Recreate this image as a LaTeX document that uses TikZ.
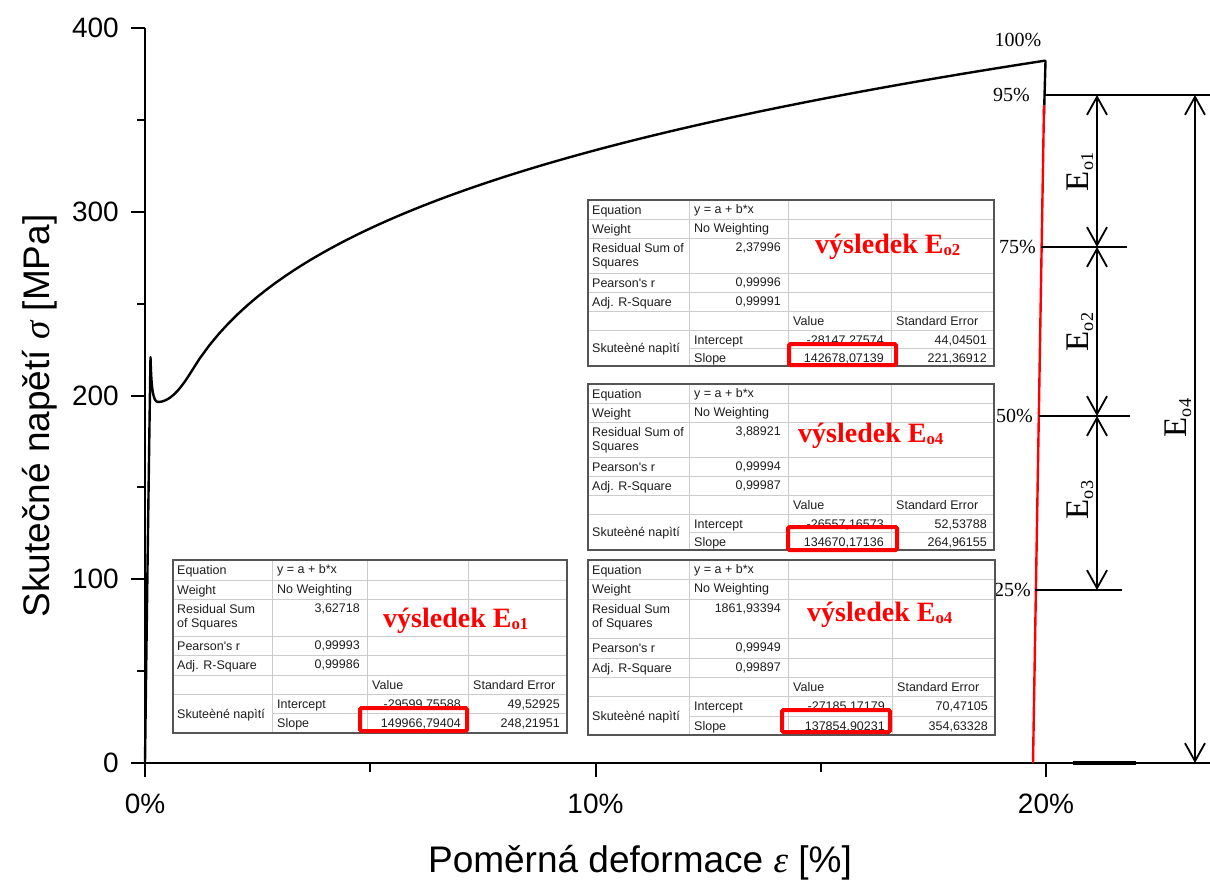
\documentclass[tikz,border=0pt]{standalone}
\usepackage{fontspec}
\usepackage{graphicx}
\setmainfont{Liberation Serif}
\setsansfont{Liberation Sans}
\newfontfamily\arialf{Liberation Sans}
\newfontfamily\tnrf{Liberation Serif}
\usetikzlibrary{arrows.meta}
\definecolor{gridgray}{HTML}{CCCCCC}
\definecolor{bordergray}{HTML}{555555}
\definecolor{tabtext}{HTML}{1E1E1E}
\definecolor{resred}{HTML}{FF0000}
\newcommand\lowsub[2][0.15em]{\raisebox{-#1}{\scalebox{0.55}{#2}}}
\newcommand\redsub[1]{\raisebox{-0.1em}{\scalebox{0.6}{#1}}}
\newcommand\setcols[4]{\def\cA{#1}\def\cB{#2}\def\cC{#3}\def\cD{#4}}
\newcommand\setrows[8]{\def\rA{#1}\def\rB{#2}\def\rC{#3}\def\rD{#4}\def\rE{#5}\def\rF{#6}\def\rG{#7}\def\rH{#8}}
\newcommand\fittab[9]{%
  \fill[white] (0,0) rectangle (\cD,\rH);
  \foreach \rr in {\rA,\rB,\rC,\rD,\rE,\rF}{\draw[gridline] (0,\rr) -- (\cD,\rr);}
  \draw[gridline] (\cA,\rG) -- (\cD,\rG);
  \foreach \cc in {\cA,\cB,\cC}{\draw[gridline] (\cc,0) -- (\cc,\rH);}
  \draw[tabborder] (0,0) rectangle (\cD,\rH);
  \node[tabl] (\tp-eq) at (4,14) {Equation};
  \node[tabl] (\tp-eqv) at (\cA+5,13) {y = a + b*x};
  \node[tabl] (\tp-w) at (4,\rA+14) {Weight};
  \node[tabl] (\tp-wv) at (\cA+5,\rA+13) {No Weighting};
  \node[tabl] (\tp-rs1) at (4,\rB+14) {#1};
  \node[tabl] (\tp-rs2) at (4,\rB+28.5) {#2};
  \node[tabr] (\tp-rsv) at (\cB-7,\rB+13) {#3};
  \node[tabl] (\tp-pr) at (4,\rC+14) {Pearson's r};
  \node[tabr] (\tp-prv) at (\cB-7,\rC+13) {#4};
  \node[tabl] (\tp-ar) at (4,\rD+14) {Adj. R-Square};
  \node[tabr] (\tp-arv) at (\cB-7,\rD+13) {#5};
  \node[tabl] (\tp-vh) at (\cB+5,\rE+14) {Value};
  \node[tabl] (\tp-eh) at (\cC+5,\rE+14) {Standard Error};
  \node[tabl] (\tp-sk) at (4,{(\rF+\rH)/2+4.5}) {Skuteèné napìtí};
  \node[tabl] (\tp-in) at (\cA+5,\rF+14) {Intercept};
  \node[tabr] (\tp-inv) at (\cC-7,\rF+14) {#6};
  \node[tabr] (\tp-ine) at (\cD-7,\rF+14) {#7};
  \node[tabl] (\tp-sl) at (\cA+5,\rG+14) {Slope};
  \node[tabr] (\tp-slv) at (\cC-7,\rG+14) {#8};
  \node[tabr] (\tp-sle) at (\cD-7,\rG+14) {#9};
}
\begin{document}
\begin{tikzpicture}[x=1pt,y=-1pt,
  axisline/.style={line width=2.4pt,line cap=butt},
  tickline/.style={line width=2pt},
  curve/.style={line width=2.4pt,line join=round,line cap=round},
  fitline/.style={line width=2.4pt,draw=resred},
  refline/.style={line width=2pt},
  dimarrow/.style={line width=1.8pt,{Straight Barb[length=18pt,width=20pt]}-{Straight Barb[length=18pt,width=20pt]}},
  gridline/.style={draw=gridgray,line width=0.9pt},
  tabborder/.style={draw=bordergray,line width=1.4pt},
  tabl/.style={anchor=base west,inner sep=0,font=\arialf\fontsize{12.5}{14}\selectfont,text=tabtext},
  tabr/.style={anchor=base east,inner sep=0,font=\arialf\fontsize{12.5}{14}\selectfont,text=tabtext},
  redbox/.style={draw=resred,line width=4pt,rounded corners=1.5pt},
  reslab/.style={anchor=base west,inner sep=0,text=resred,font=\tnrf\bfseries\fontsize{28}{28}\selectfont},
  ticklab/.style={inner sep=0,font=\arialf\fontsize{28}{30}\selectfont},
  axtitle/.style={inner sep=0,font=\arialf\fontsize{37}{40}\selectfont},
  pct/.style={inner sep=0,font=\tnrf\fontsize{20}{20}\selectfont},
  elab/.style={inner sep=0,rotate=90,font=\tnrf\fontsize{33}{33}\selectfont}]
\useasboundingbox (0,0) rectangle (1210,881);

% axes
\coordinate (ytop) at (145,28);
\coordinate (orig) at (145,763);
\coordinate (xend) at (1073,763);
\coordinate (stubend) at (1136,763);
\coordinate (baseend) at (1210,763);
\draw[axisline] (ytop) -- (orig);
\draw[axisline] (145,763) -- (xend);
\draw[line width=3.4pt] (xend) -- (stubend);
\draw[line width=1.6pt] (stubend) -- (baseend);

% y ticks
\foreach \yy in {28,211.75,395.5,579.25,763}{\draw[tickline] (131,\yy) -- (145,\yy);}
\foreach \yy in {119.9,303.6,487.4,671.1}{\draw[tickline] (137,\yy) -- (145,\yy);}
\foreach \v/\yy in {0/763,100/579.25,200/395.5,300/211.75,400/28}{\node[ticklab,anchor=east] (yl\v) at (119,\yy) {\v};}
% x ticks
\foreach \xx in {145,595.5,1046}{\draw[tickline] (\xx,763) -- (\xx,777);}
\foreach \xx in {370,820.5}{\draw[tickline] (\xx,763) -- (\xx,772);}
\node[ticklab,anchor=base] (xl0) at (145,813) {0\%};
\node[ticklab,anchor=base] (xl10) at (595.5,813) {10\%};
\node[ticklab,anchor=base] (xl20) at (1046,813) {20\%};

% axis titles
\node[axtitle,anchor=base] (xtitle) at (640,872) {Poměrná deformace {\tnrf\itshape ε} [\%]};
\node[axtitle,anchor=base,rotate=90] (ytitle) at (49,416) {Skutečné napětí {\tnrf\itshape σ} [MPa]};

% curve
\coordinate (peak) at (150.5,357);
\coordinate (cmin) at (158,402);
\coordinate (cj) at (190.05,373.6);
\coordinate (c100) at (1043.8,60.7);
\coordinate (cdrop) at (1044,115);
\draw[curve] (orig) .. controls (147,600) and (149.5,420) .. (peak)
  .. controls (151.3,385) and (152.5,402) .. (cmin)
  .. controls (168,402) and (178,393) .. (cj);
\draw[curve] plot[domain=1:19.95,samples=90,variable=\e] ({145+45.05*\e},{763-1.8375*211.9*exp(0.197*ln(\e))});
\draw[curve] (c100) -- (1045.5,61) -- (cdrop);
\coordinate (rtop) at (1044,105);
\coordinate (rbot) at (1033,763);
\draw[fitline] (rtop) -- (rbot);

% reference lines
\coordinate (l95a) at (1044,95); \coordinate (l95b) at (1210,95);
\coordinate (l75a) at (1041,247); \coordinate (l75b) at (1127,247);
\coordinate (l50a) at (1039,416); \coordinate (l50b) at (1130,416);
\coordinate (l25a) at (1035,590); \coordinate (l25b) at (1122,590);
\draw[refline] (l95a) -- (l95b);
\draw[refline] (l75a) -- (l75b);
\draw[refline] (l50a) -- (l50b);
\draw[refline] (l25a) -- (l25b);

% percent labels
\node[pct] (p100) at (1018,40) {100\%};
\node[pct,anchor=east] (p95) at (1030,95) {95\%};
\node[pct,anchor=east] (p75) at (1036,247) {75\%};
\node[pct,anchor=east] (p50) at (1033,416) {50\%};
\node[pct,anchor=east] (p25) at (1031,590) {25\%};

% dimension arrows
\coordinate (a95) at (1097,95);
\coordinate (a75) at (1097,247);
\coordinate (a50) at (1097,416);
\coordinate (a25) at (1097,590);
\coordinate (b95) at (1195,95);
\coordinate (b0) at (1195,763);
\draw[dimarrow] (a95) -- (a75);
\draw[dimarrow] (a75) -- (a50);
\draw[dimarrow] (a50) -- (a25);
\draw[dimarrow] (b95) -- (b0);
\node[elab] (e1) at (1080,172) {E\lowsub{o1}};
\node[elab] (e2) at (1080,332) {E\lowsub{o2}};
\node[elab] (e3) at (1080,500) {E\lowsub{o3}};
\node[elab] (e4) at (1178,418) {E\lowsub{o4}};

% tables
\begin{scope}[shift={(588,200)}]
\setcols{101}{200}{303}{406}\setrows{19}{38}{73}{92}{111}{130}{148}{166}\def\tp{tA}
\fittab{Residual Sum of}{Squares}{2,37996}{0,99996}{0,99991}{-28147,27574}{44,04501}{142678,07139}{221,36912}
\end{scope}
\begin{scope}[shift={(588,384)}]
\setcols{101}{200}{303}{406}\setrows{19}{38}{73}{92}{111}{130}{148}{166}\def\tp{tB}
\fittab{Residual Sum of}{Squares}{3,88921}{0,99994}{0,99987}{-26557,16573}{52,53788}{134670,17136}{264,96155}
\end{scope}
\begin{scope}[shift={(588,560)}]
\setcols{101}{200}{304}{407}\setrows{19}{39}{78}{98}{117}{136}{156}{175}\def\tp{tC}
\fittab{Residual Sum}{of Squares}{1861,93394}{0,99949}{0,99897}{-27185,17179}{70,47105}{137854,90231}{354,63328}
\end{scope}
\begin{scope}[shift={(173,560)}]
\setcols{99}{194}{295}{394}\setrows{20}{39}{76}{95}{115}{134}{153}{173}\def\tp{tD}
\fittab{Residual Sum}{of Squares}{3,62718}{0,99993}{0,99986}{-29599,75588}{49,52925}{149966,79404}{248,21951}
\end{scope}

% red boxes
\draw[redbox] (789,344) rectangle (896,365);
\draw[redbox] (788,527) rectangle (897,550);
\draw[redbox] (782,710) rectangle (890,732);
\draw[redbox] (360,708) rectangle (467,731);

% result labels
\node[reslab] (resA) at (815,253) {výsledek E\redsub{o2}};
\node[reslab] (resB) at (798,442) {výsledek E\redsub{o4}};
\node[reslab] (resC) at (807,621) {výsledek E\redsub{o4}};
\node[reslab] (resD) at (383,627) {výsledek E\redsub{o1}};
\end{tikzpicture}
\end{document}
